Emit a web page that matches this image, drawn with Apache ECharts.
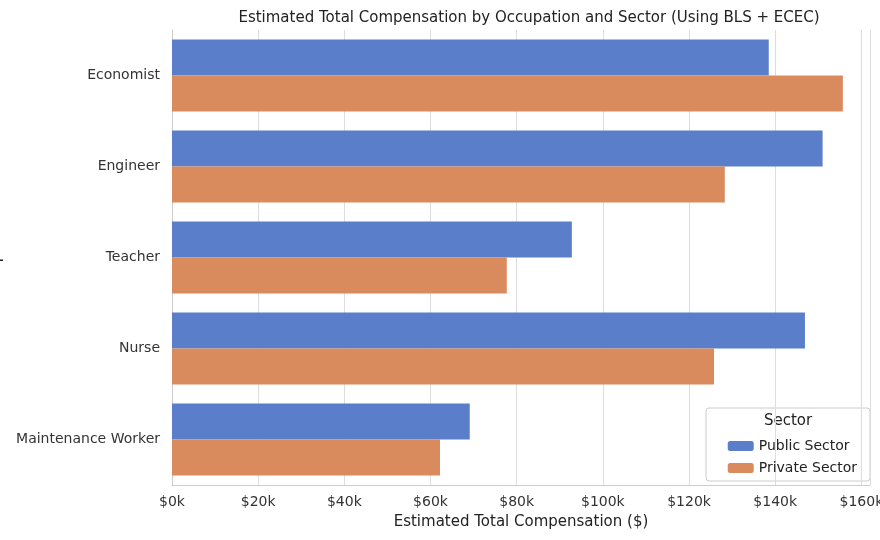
<!DOCTYPE html><html><head><meta charset="utf-8"><script src="https://cdn.jsdelivr.net/npm/echarts@6/dist/echarts.min.js"></script></head><body style="margin:0;background:#fff"><div id="c" style="width:880px;height:540px"></div><script>
const categories=["Economist","Engineer","Teacher","Nurse","Maintenance Worker"];
const publicSector=[138500,151000,92800,146900,69100];
const privateSector=[155700,128300,77700,125800,62200];
const c=echarts.init(document.getElementById('c'));
const F='DejaVu Sans';
c.setOption({animation:false,textStyle:{fontFamily:F},
title:{text:'Estimated Total Compensation by Occupation and Sector (Using BLS + ECEC)',left:524,top:6,textAlign:'center',textStyle:{fontFamily:F,fontSize:15,fontWeight:'normal',color:'#222'}},
grid:{left:172,right:10,top:30,bottom:55,containLabel:false,outerBoundsMode:'none'},
xAxis:{type:'value',min:0,max:162000,interval:20000,name:'Estimated Total Compensation ($)',nameLocation:'middle',nameGap:30,nameTextStyle:{fontSize:15,color:'#222'},
axisLabel:{formatter:v=>'$'+v/1000+'k',fontSize:14,color:'#333',margin:10},splitLine:{lineStyle:{color:'#dddddd'}},axisLine:{show:true,lineStyle:{color:'#ccc'}},axisTick:{show:false}},
yAxis:{type:'category',data:categories,inverse:true,name:'Occupation',nameLocation:'middle',nameGap:168,nameTextStyle:{fontSize:15,color:'#222'},axisLabel:{fontSize:14,color:'#333',margin:12},axisTick:{show:false},axisLine:{lineStyle:{color:'#ccc'}},splitLine:{show:false}},
legend:{orient:'vertical',right:18,top:434,itemWidth:26,itemHeight:10,itemGap:8,textStyle:{fontSize:14,color:'#222'},data:['Public Sector','Private Sector']},
graphic:[{type:'rect',shape:{x:706,y:408,width:164,height:73,r:3},style:{fill:'rgba(255,255,255,0.85)',stroke:'#ccc'}},{type:'text',style:{x:788,y:414,text:'Sector',fill:'#222',font:'15px DejaVu Sans',align:'center'}}],
series:[{name:'Public Sector',type:'bar',data:publicSector,barWidth:36,barGap:'0%',itemStyle:{color:'#5a7ec9'}},
{name:'Private Sector',type:'bar',data:privateSector,barWidth:36,itemStyle:{color:'#d98b5e'}}]});
</script></body></html>
